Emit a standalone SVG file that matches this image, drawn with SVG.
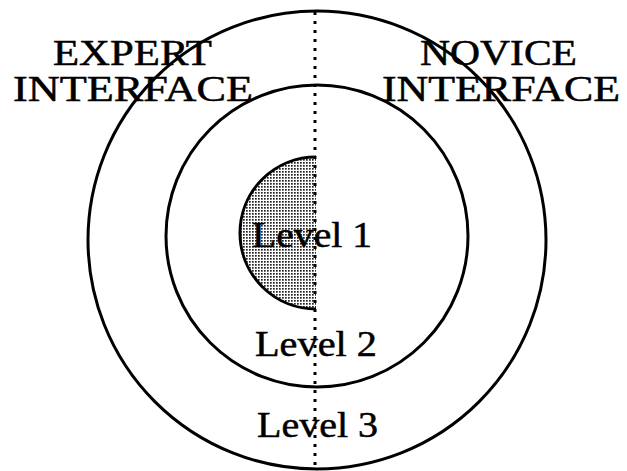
<svg xmlns="http://www.w3.org/2000/svg" width="627" height="471" viewBox="0 0 627 471">
<style>
.ring{fill:none;stroke:#000;stroke-width:3}
.lbl{font-family:"Liberation Serif","Times New Roman",serif;font-size:35px;fill:#000;stroke:#000;stroke-width:0.5}
.div{stroke:#000;stroke-width:3;stroke-dasharray:3 6;fill:none}
</style>
<defs>
<pattern id="stip" width="3" height="3" patternUnits="userSpaceOnUse">
<rect width="3" height="3" fill="#fff"/>
<rect width="1.7" height="1.7" fill="#222"/>
</pattern>
</defs>
<rect width="627" height="471" fill="#fff"/>
<g id="level3">
<circle class="ring" cx="317" cy="240" r="229"/>
<text class="lbl" x="257" y="437" textLength="121" lengthAdjust="spacingAndGlyphs">Level 3</text>
</g>
<g id="level2">
<circle class="ring" cx="317" cy="236" r="151"/>
<text class="lbl" x="255" y="356" textLength="122" lengthAdjust="spacingAndGlyphs">Level 2</text>
</g>
<g id="level1">
<path d="M316,157 A76,76 0 0 0 316,309 Z" fill="url(#stip)" stroke="none"/>
<path d="M316,157 A76,76 0 0 0 316,309" class="ring"/>
<text class="lbl" x="252" y="247" textLength="120" lengthAdjust="spacingAndGlyphs">Level 1</text>
</g>
<g id="connectors">
<line class="div" x1="315" y1="12" x2="315" y2="471"/>
</g>
<g id="expert">
<text class="lbl" x="53" y="65" textLength="159" lengthAdjust="spacingAndGlyphs">EXPERT</text>
<text class="lbl" x="13" y="101" textLength="240" lengthAdjust="spacingAndGlyphs">INTERFACE</text>
</g>
<g id="novice">
<text class="lbl" x="420" y="65" textLength="157" lengthAdjust="spacingAndGlyphs">NOVICE</text>
<text class="lbl" x="382" y="101" textLength="238" lengthAdjust="spacingAndGlyphs">INTERFACE</text>
</g>
</svg>
